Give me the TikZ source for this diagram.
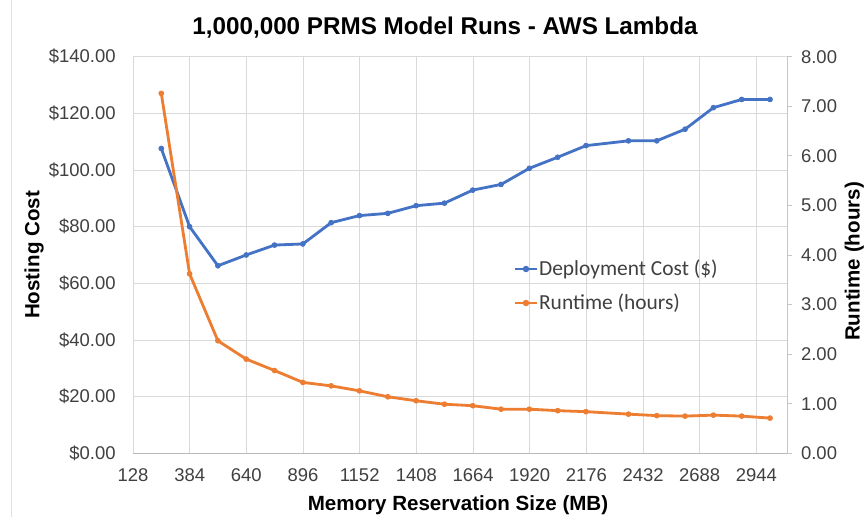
\documentclass[tikz,border=0pt]{standalone}
\usepackage{fontspec}
\setmainfont{Liberation Sans}
\newfontfamily\legendfont{Carlito}
\usetikzlibrary{positioning}
\definecolor{costblue}{HTML}{4472C4}
\definecolor{runorange}{HTML}{ED7D31}
\definecolor{gridgray}{HTML}{D9D9D9}
\definecolor{labelgray}{HTML}{404040}

\begin{document}
\begin{tikzpicture}[x=0.02cm,y=-0.02cm,
    ticklabel/.style={text=labelgray,inner sep=1pt,font=\fontsize{10.5}{12}\selectfont},
    axistitle/.style={inner sep=0pt,font=\bfseries\fontsize{11.7}{14}\selectfont},
    keytext/.style={text=labelgray,inner sep=1pt,anchor=west,font=\legendfont\fontsize{12.2}{14}\selectfont},
    series/.style={line width=1.6pt,line join=round,mark=*,mark size=1.4pt,mark options={solid,line width=0.4pt}}]

        \useasboundingbox (0,0) rectangle (867,517);
        \fill[white] (0,0) rectangle (867,517);
        \draw[gray!25] (11,0) -- (11,517);

        % Gridlines
        \foreach \i in {0,...,11}
          \draw[gridgray] (133+\i*56.67,56.7) -- (133+\i*56.67,453.3);
        \foreach \j in {0,...,7}
          \draw[gridgray] (133,453.3-\j*56.66) -- (787,453.3-\j*56.66);
        \draw[gray!45] (787,56.7) -- (787,453.3);
        \draw[gray!55] (133,453.3) -- (787,453.3);
        \foreach \j in {0,...,8}
          \draw[gray!45] (787,453.3-\j*49.58) -- (792,453.3-\j*49.58);

        % Axis labels
        \foreach \v [count=\j from 0] in {0,20,...,140}
          \node[ticklabel,anchor=east] (cost\j) at (117.7,453.3-\v*2.833) {\$\v.00};
        \foreach \h in {0,...,8}
          \node[ticklabel,anchor=west] (hours\h) at (799,453.3-\h*49.58) {\h.00};
        \foreach \m [count=\i from 0] in {128,384,...,2944}
          \node[ticklabel] (mem\i) at (133+\i*56.67,475.5) {\m};

        \node[anchor=base,inner sep=0pt,font=\bfseries\fontsize{13.8}{16}\selectfont] (title) at (445,35) {1,000,000 PRMS Model Runs - AWS Lambda};
        \node[axistitle,anchor=base] (xtitle) at (458,511) {Memory Reservation Size (MB)};
        \node[axistitle,anchor=base,rotate=90] (ltitle) at (39.5,255) {Hosting Cost};
        \node[axistitle,anchor=base,rotate=90] (rtitle) at (859.5,261.5) {Runtime (hours)};

        % Deployment cost, left axis
        \begin{scope}[shift={(104.65,453.3)},x=0.00443cm,y=0.05667cm]
          \draw[series,color=costblue] plot coordinates {(256,107.6) (384,80.0) (512,66.2) (640,70.0)
            (768,73.5) (896,73.9) (1024,81.4) (1152,83.9) (1280,84.7) (1408,87.4) (1536,88.3)
            (1664,92.9) (1792,94.9) (1920,100.6) (2048,104.5) (2176,108.6) (2368,110.3)
            (2496,110.3) (2624,114.4) (2752,122.0) (2880,124.9) (3008,124.9)};
        \end{scope}

        % Runtime, right axis
        \begin{scope}[shift={(104.65,453.3)},x=0.00443cm,y=0.9917cm]
          \draw[series,color=runorange] plot coordinates {(256,7.26) (384,3.62) (512,2.27) (640,1.90)
            (768,1.67) (896,1.43) (1024,1.36) (1152,1.26) (1280,1.14) (1408,1.06) (1536,0.99)
            (1664,0.96) (1792,0.89) (1920,0.89) (2048,0.86) (2176,0.84) (2368,0.79)
            (2496,0.76) (2624,0.75) (2752,0.77) (2880,0.75) (3008,0.71)};
        \end{scope}

        % Legend
        \node[keytext] (costkey) at (537,269) {Deployment Cost (\$)};
        \node[keytext] (runkey) at (537,303) {Runtime (hours)};
        \coordinate (coststart) at (515,269);
        \coordinate (runstart) at (515,303);
        \draw[costblue,line width=1.6pt] (coststart) -- (costkey.west)
          node[midway,circle,fill,inner sep=1.3pt] (costdot) {};
        \draw[runorange,line width=1.6pt] (runstart) -- (runkey.west)
          node[midway,circle,fill,inner sep=1.3pt] (rundot) {};
      \end{tikzpicture}
\end{document}
